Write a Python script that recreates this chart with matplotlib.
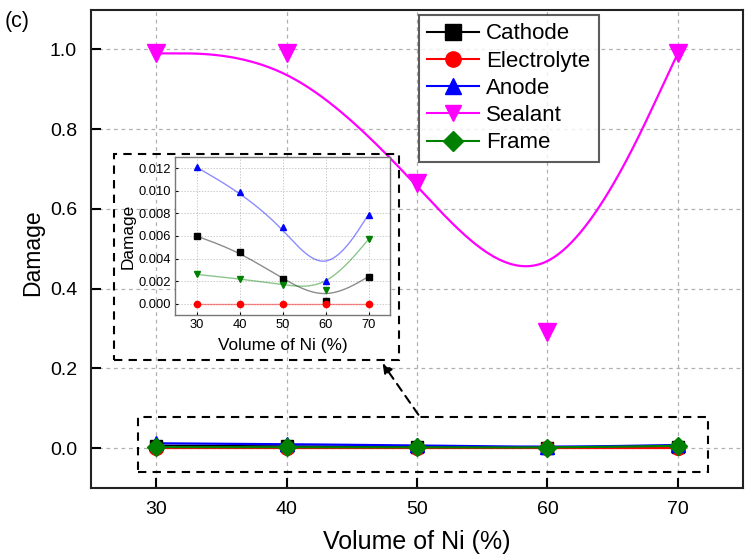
import numpy as np
import matplotlib
matplotlib.use("Agg")
import matplotlib.pyplot as plt
from matplotlib.patches import Rectangle, FancyArrowPatch

plt.rcParams['font.family'] = ['Liberation Sans', 'DejaVu Sans']

ni_volume = [30, 40, 50, 60, 70]
cathode = [0.0060, 0.0046, 0.0022, 0.0002, 0.0024]
electrolyte = [0.0, 0.0, 0.0, 0.0, 0.0]
anode = [0.0121, 0.0099, 0.0068, 0.0020, 0.0079]
sealant = [0.99, 0.99, 0.665, 0.29, 0.99]
frame = [0.0026, 0.0022, 0.0017, 0.0012, 0.0057]

series_names = ["Cathode", "Electrolyte", "Anode", "Sealant", "Frame"]
series_values = [cathode, electrolyte, anode, sealant, frame]
colors = ["black", "red", "blue", "magenta", "green"]
markers = ["s", "o", "^", "v", "D"]
inset_markers = ["s", "o", "^", None, "v"]


def bspline(x, y, n=60):
    """Uniform cubic B-spline (Origin style) with the data points as control
    points; end points repeated so the curve starts/ends on them."""
    P = np.column_stack([x, y]).astype(float)
    Q = np.vstack([P[0], P[0], P, P[-1], P[-1]])
    t = np.linspace(0, 1, n)
    b0 = (1 - t) ** 3 / 6
    b1 = (3 * t ** 3 - 6 * t ** 2 + 4) / 6
    b2 = (-3 * t ** 3 + 3 * t ** 2 + 3 * t + 1) / 6
    b3 = t ** 3 / 6
    pts = []
    for i in range(len(Q) - 3):
        seg = (np.outer(b0, Q[i]) + np.outer(b1, Q[i + 1]) +
               np.outer(b2, Q[i + 2]) + np.outer(b3, Q[i + 3]))
        pts.append(seg)
    pts = np.vstack(pts)
    return pts[:, 0], pts[:, 1]


fig = plt.figure(figsize=(7.53, 5.6), dpi=100)
ax = fig.add_axes([91 / 753, 1 - 488 / 560, (743 - 91) / 753, (488 - 9.5) / 560])

msize = {"s": 9, "o": 10, "^": 10, "v": 13, "D": 9}
for i in range(5):
    xs, ys = bspline(ni_volume, series_values[i])
    ax.plot(xs, ys, color=colors[i], lw=1.6, zorder=3)
    ax.plot(ni_volume, series_values[i], linestyle='none', marker=markers[i],
            color=colors[i], markersize=msize[markers[i]], zorder=4)
    ax.plot([], [], color=colors[i], lw=1.5, marker=markers[i],
            markersize=11 if markers[i] != 'D' else 10, label=series_names[i])

ax.set_xlim(25, 75)
ax.set_ylim(-0.1, 1.1)
ax.set_xticks(ni_volume)
ax.set_yticks([0.0, 0.2, 0.4, 0.6, 0.8, 1.0])
ax.set_yticklabels(["0.0", "0.2", "0.4", "0.6", "0.8", "1.0"])
ax.grid(True, linestyle=(0, (3, 3)), color='#b0b0b0', lw=0.9)
ax.set_axisbelow(True)
ax.tick_params(axis='both', direction='in', length=7, width=1.5, labelsize=14, pad=9)
ax.tick_params(axis='y', pad=10)
ax.tick_params(top=False, right=False)
for sp in ax.spines.values():
    sp.set_linewidth(1.5)
    sp.set_color('#222222')
ax.set_xlabel("Volume of Ni (%)", fontsize=18, labelpad=9)
ax.set_ylabel("Damage", fontsize=16.5)
ax.yaxis.set_label_coords((44 - 91) / 652, (488 - 253) / 478.5)

leg = ax.legend(loc='upper left', bbox_to_anchor=((419 - 91) / (743 - 91), 1 - (15 - 9.5) / (488 - 9.5)),
                borderaxespad=0, fontsize=16, frameon=True, fancybox=False, edgecolor='#333333',
                handlelength=2.3, labelspacing=0.28, borderpad=0.38, handletextpad=0.35)
leg.get_frame().set_linewidth(1.5)

fig.text(5 / 753, 1 - 21 / 560, "(c)", fontsize=15.5, va='center', ha='left')

# dashed box around near-zero region (data coords)
ax.add_patch(Rectangle((28.6, -0.06), 72.3 - 28.6, 0.0775 + 0.06, fill=False,
                       linestyle=(0, (4, 3)), lw=1.5, edgecolor='black', zorder=5))

# dashed box around inset (figure coords)
fig.patches.append(Rectangle((114 / 753, 1 - 360 / 560), (399 - 114) / 753, (360 - 154) / 560,
                             transform=fig.transFigure, fill=False, linestyle=(0, (4, 3)),
                             lw=1.5, edgecolor='black', zorder=5))
arrow = FancyArrowPatch((420 / 753, 1 - 417 / 560), (381 / 753, 1 - 361 / 560),
                        transform=fig.transFigure, arrowstyle='-|>', mutation_scale=14,
                        linestyle=(0, (4, 3)), lw=1.5, color='black')
fig.patches.append(arrow)

# inset
axin = fig.add_axes([175 / 753, 1 - 315 / 560, (390 - 175) / 753, (315 - 157) / 560])
for i in [0, 1, 2, 4]:
    xs, ys = bspline(ni_volume, series_values[i])
    axin.plot(xs, ys, color=colors[i], lw=1.0, alpha=0.45, zorder=3)
    axin.plot(ni_volume, series_values[i], linestyle='none', marker=inset_markers[i],
              color=colors[i], markersize=4.5, zorder=4)
axin.set_xlim(25, 75)
axin.set_ylim(-0.001, 0.013)
axin.set_xticks(ni_volume)
axin.set_yticks([0.0, 0.002, 0.004, 0.006, 0.008, 0.010, 0.012])
axin.set_yticklabels(["0.000", "0.002", "0.004", "0.006", "0.008", "0.010", "0.012"])
axin.grid(True, linestyle=(0, (1.5, 1.5)), color='#cccccc', lw=0.7)
axin.set_axisbelow(True)
axin.tick_params(axis='both', direction='in', length=2, width=0.8, labelsize=9.3, pad=3)
for sp in axin.spines.values():
    sp.set_linewidth(1.0)
    sp.set_color('#777777')
axin.set_xlabel("Volume of Ni (%)", fontsize=12.4, labelpad=5)
axin.set_ylabel("Damage", fontsize=12.4)
axin.yaxis.set_label_coords((136 - 175) / 215, (315 - 236) / 158)

fig.savefig("out.png", dpi=100)
